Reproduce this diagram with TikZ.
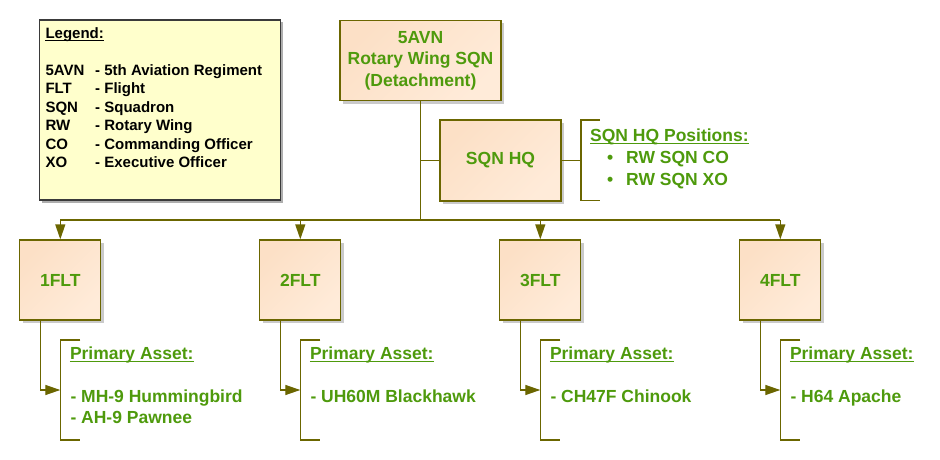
\documentclass[tikz,border=0pt]{standalone}
\usepackage{fontspec}
\setmainfont{Liberation Sans}
\usetikzlibrary{arrows.meta,shadows}
\definecolor{linec}{HTML}{6B6600}
\definecolor{grn}{HTML}{4E9A0C}
\definecolor{peachA}{HTML}{FCE0C6}
\definecolor{peachB}{HTML}{FFEBD9}
\definecolor{legfill}{HTML}{FFFFCC}
\definecolor{legline}{HTML}{3A3A3A}
\tikzset{
  unit/.style={draw=linec, line width=1.3pt, left color=peachA, right color=peachB,
    shading angle=45, text=grn, align=center, inner sep=0pt,
    font=\bfseries\fontsize{17.5}{21.7}\selectfont,
    drop shadow={shadow xshift=3pt, shadow yshift=-3pt, opacity=0.35, fill=black!60}},
  flt/.style={unit, minimum width=81pt, minimum height=80pt},
  conn/.style={draw=linec, line width=1.3pt},
  arr/.style={conn, -{Triangle[length=15pt,width=10pt]}},
  gtxt/.style={text=grn, inner sep=0pt, anchor=base west, font=\bfseries\fontsize{17.5}{21}\selectfont},
  ltxt/.style={text=black, inner sep=0pt, anchor=base west, font=\bfseries\fontsize{15}{18}\selectfont},
  uline/.style={line width=1.3pt},
}
\begin{document}
\begin{tikzpicture}[x=1pt,y=-1pt]
\useasboundingbox (0,0) rectangle (940,460);
% legend
\node[draw=legline, line width=1.6pt, fill=legfill, minimum width=241pt, minimum height=180pt, inner sep=0pt,
  drop shadow={shadow xshift=2.5pt, shadow yshift=-2.5pt, opacity=0.45, fill=black!70}] (legend) at (160,110) {};
\node[ltxt] (lg) at (45.3,38.3) {Legend:};
\draw[uline, black, line width=1.1pt] ([yshift=-2pt]lg.base west) -- ([yshift=-2pt]lg.base east);
\node[ltxt] (a1) at (45.3,75) {5AVN};  \node[ltxt] (d1) at (95,75) {- 5th Aviation Regiment};
\node[ltxt] (a2) at (45.3,93.5) {FLT};  \node[ltxt] (d2) at (95,93.5) {- Flight};
\node[ltxt] (a3) at (45.3,112) {SQN};  \node[ltxt] (d3) at (95,112) {- Squadron};
\node[ltxt] (a4) at (45.3,130.5) {RW};   \node[ltxt] (d4) at (95,130.5) {- Rotary Wing};
\node[ltxt] (a5) at (45.3,149) {CO};   \node[ltxt] (d5) at (95,149) {- Commanding Officer};
\node[ltxt] (a6) at (45.3,167.5) {XO};   \node[ltxt] (d6) at (95,167.5) {- Executive Officer};
% top
\node[unit, minimum width=161pt, minimum height=80pt] (top) at (420.5,60.5) {5AVN\\Rotary Wing SQN\\(Detachment)};
\node[unit, minimum width=121pt, minimum height=81pt] (hq) at (500.5,160.5) {SQN HQ};
% FLT
\node[flt] (f1) at (60.3,280) {1FLT};
\node[flt] (f2) at (300.3,280) {2FLT};
\node[flt] (f3) at (540.3,280) {3FLT};
\node[flt] (f4) at (780.3,280) {4FLT};
% bus
\coordinate (b0) at (420.5,220);
\coordinate (bL) at (60.3,220);
\coordinate (bR) at (780.3,220);
\draw[conn] (top.south) -- (b0);
\draw[conn] (b0 |- hq.west) -- (hq.west);
\draw[conn] (bL) -- (bR);
\foreach \f in {f1,f2,f3,f4}{
  \draw[arr] (\f.north |- b0) -- (\f.north);
}
% SQN HQ bracket
\coordinate (hqb) at (581,160.5);
\draw[conn] (hq.east) -- (hqb);
\draw[conn] (600,120) -- (581,120) -- (581,200.5) -- (600,200.5);
\node[gtxt] (hqp) at (590,141) {SQN HQ Positions:};
\draw[uline, grn] ([yshift=-2.3pt]hqp.base west) -- ([yshift=-2.3pt]hqp.base east);
\node[gtxt] (bu1) at (607,163.5) {\textbullet};
\node[gtxt] (p1) at (626,163.5) {RW SQN CO};
\node[gtxt] (bu2) at (607,185) {\textbullet};
\node[gtxt] (p2) at (626,185) {RW SQN XO};
% primary asset brackets
\foreach \f/\cx in {f1/60.3,f2/300.3,f3/540.3,f4/780.3}{
  \coordinate (\f br) at (\cx,390);
  \draw[conn] (\cx+20,340) -- (\cx,340) -- (\cx,440) -- (\cx+20,440);
  \draw[arr] ([xshift=-20pt]\f.south) |- (\f br);
  \node[gtxt] (\f pa) at (\cx+9.5,359.5) {Primary Asset:};
  \draw[uline, grn] ([yshift=-2.3pt]\f pa.base west) -- ([yshift=-2.3pt]\f pa.base east);
}
\node[gtxt] (i11) at (70.3,402) {- MH-9 Hummingbird};
\node[gtxt] (i12) at (70.3,423.5) {- AH-9 Pawnee};
\node[gtxt] (i21) at (310.3,402) {- UH60M Blackhawk};
\node[gtxt] (i31) at (550.3,402) {- CH47F Chinook};
\node[gtxt] (i41) at (790.3,402) {- H64 Apache};
\end{tikzpicture}
\end{document}
